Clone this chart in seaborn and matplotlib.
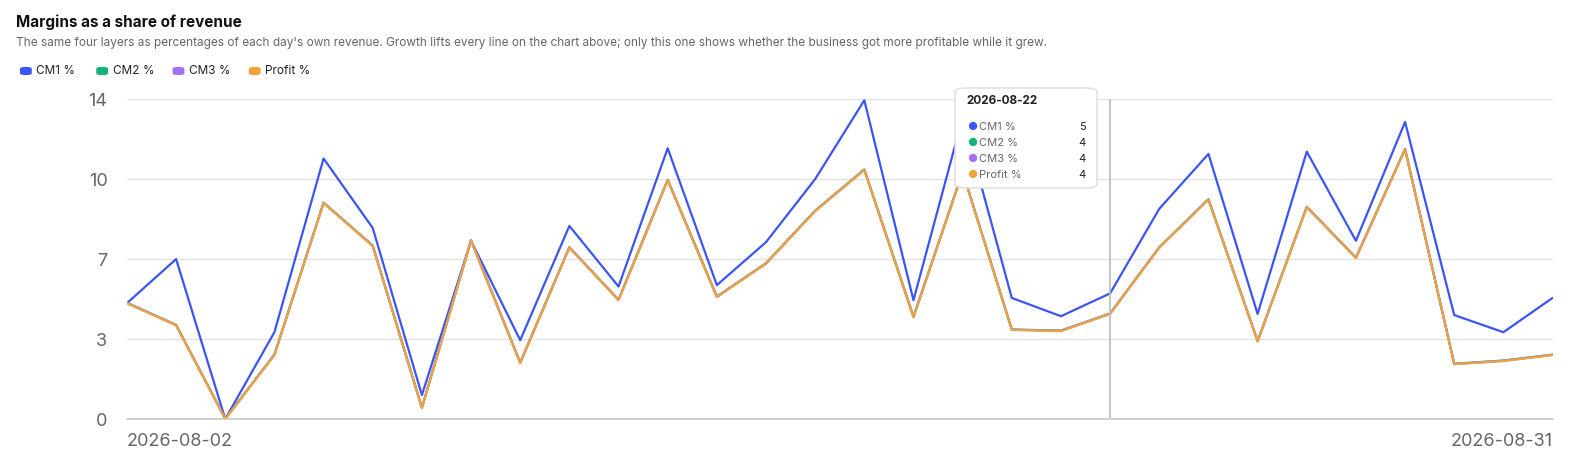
import numpy as np
import pandas as pd
import matplotlib.pyplot as plt
import seaborn as sns
from matplotlib.patches import FancyBboxPatch

sns.set_theme(style="white")
plt.rcParams["font.family"] = ["Inter", "DejaVu Sans"]

dates = pd.date_range("2026-08-02", "2026-08-31", freq="D")
cm1 = [5.07, 7.0, 0.0, 3.8, 11.4, 8.36, 1.05, 7.8, 3.45, 8.45, 5.8, 11.85, 5.86, 7.74, 10.5,
       13.95, 5.2, 13.2, 5.3, 4.5, 5.5, 9.2, 11.6, 4.6, 11.7, 7.8, 13.0, 4.55, 3.8, 5.3]
profit = [5.07, 4.1, 0.0, 2.8, 9.45, 7.57, 0.48, 7.8, 2.45, 7.5, 5.2, 10.45, 5.34, 6.8, 9.1,
          10.9, 4.46, 10.8, 3.9, 3.85, 4.6, 7.5, 9.6, 3.4, 9.27, 7.04, 11.8, 2.4, 2.54, 2.8]
cm2 = [v + 0.02 for v in profit]
cm3 = [v + 0.01 for v in profit]
series = {"CM1 %": cm1, "CM2 %": cm2, "CM3 %": cm3, "Profit %": profit}
colors = {"CM1 %": "#3b55f5", "CM2 %": "#16b07a", "CM3 %": "#a070f5", "Profit %": "#f0a23c"}
yticks = [0, 3.5, 7, 10.5, 14]
hover_idx = 20

df = pd.DataFrame({"date": dates, **series}).melt("date", var_name="layer", value_name="pct")

fig = plt.figure(figsize=(15.73, 4.61), dpi=100)
ax = fig.add_axes([0.0807, 0.091, 0.9063, 0.694])
sns.lineplot(data=df, x="date", y="pct", hue="layer", palette=colors, ax=ax,
             linewidth=1.6, legend=False)

ax.set_ylim(0, 14)
ax.set_xlim(dates[0], dates[-1])
ax.set_yticks(yticks)
ax.set_yticklabels([str(int(t)) for t in yticks], color="#666666", fontsize=13)
ax.tick_params(axis="y", length=0, pad=14)
ax.grid(axis="y", color="#e2e2e2", linewidth=1)
ax.set_xticks([])
ax.set_xlabel("")
ax.set_ylabel("")
for s in ["top", "right", "left"]:
    ax.spines[s].set_visible(False)
ax.spines["bottom"].set_color("#cccccc")
ax.text(0, -0.045, dates[0].strftime("%Y-%m-%d"), transform=ax.transAxes, ha="left", va="top",
        fontsize=13, color="#666666")
ax.text(1, -0.045, dates[-1].strftime("%Y-%m-%d"), transform=ax.transAxes, ha="right", va="top",
        fontsize=13, color="#666666")

# hover line + tooltip
ax.axvline(dates[hover_idx], color="#bbbbbb", linewidth=1.2)
bx, by, bw, bh = 955 / 1573, 1 - 188 / 461, 142 / 1573, 100 / 461
fig.patches.append(FancyBboxPatch((bx, by), bw, bh, boxstyle="round,pad=0,rounding_size=0.008",
                                  transform=fig.transFigure, facecolor="white",
                                  edgecolor="#dddddd", linewidth=1, zorder=10))
fig.text(bx + 0.007, by + bh - 0.035, dates[hover_idx].strftime("%Y-%m-%d"), fontsize=8.5,
         weight="bold", color="#222222", zorder=11)
for i, (name, vals) in enumerate(series.items()):
    yy = by + bh - 0.085 - i * 0.0345
    fig.text(bx + 0.0075, yy, "●", color=colors[name], fontsize=8, va="center", zorder=11)
    fig.text(bx + 0.0155, yy, name, color="#666666", fontsize=8, va="center", zorder=11)
    fig.text(bx + bw - 0.007, yy, str(int(vals[hover_idx])), color="#222222", fontsize=8,
             va="center", ha="right", zorder=11)

fig.text(0.0102, 1 - 22 / 461, "Margins as a share of revenue", fontsize=11, weight="bold",
         color="#111111", va="center")
fig.text(0.0102, 1 - 43 / 461, "The same four layers as percentages of each day's own revenue. "
         "Growth lifts every line on the chart above; only this one shows whether the business "
         "got more profitable while it grew.", fontsize=8.5, color="#666666", va="center")
lx = 0.0127
ly = 1 - 71 / 461
for name in series:
    fig.patches.append(FancyBboxPatch((lx, ly - 0.009), 0.0075, 0.018,
                                      boxstyle="round,pad=0,rounding_size=0.004",
                                      transform=fig.transFigure, facecolor=colors[name],
                                      edgecolor="none"))
    fig.text(lx + 0.0105, ly, name, color="#222222", fontsize=8.5, va="center")
    lx += 0.0105 + len(name) * 0.0052 + 0.012

fig.savefig("out.png", dpi=100)
